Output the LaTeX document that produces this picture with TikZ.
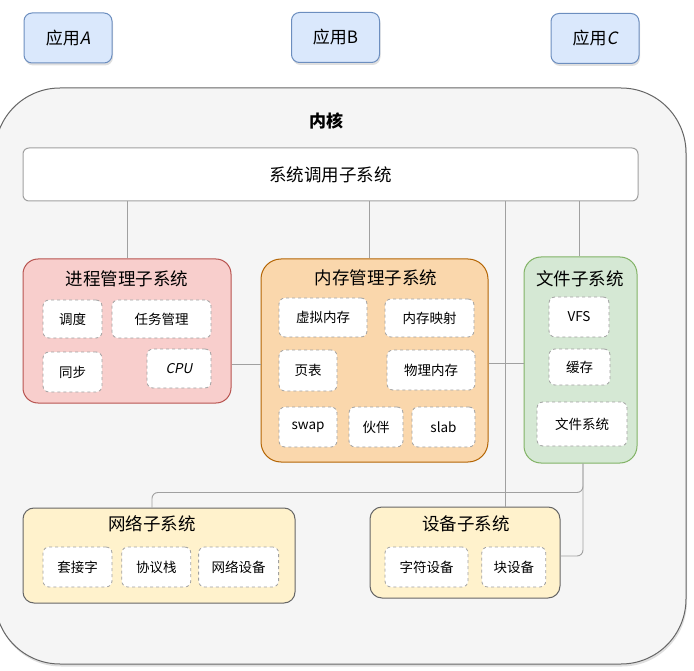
\documentclass[tikz,border=0pt]{standalone}
\usepackage{fontspec}
\setmainfont{Noto Sans CJK SC}[ItalicFont=Noto Sans CJK SC, ItalicFeatures={FakeSlant=0.2}]
\usepackage{tikz}
\usetikzlibrary{positioning,calc,shadows}

\definecolor{kernfill}{HTML}{F5F5F5}
\definecolor{kernline}{HTML}{666666}
\definecolor{appfill}{HTML}{DAE8FC}
\definecolor{appline}{HTML}{6C8EBF}
\definecolor{procfill}{HTML}{F8CECC}
\definecolor{procline}{HTML}{B85450}
\definecolor{memfill}{HTML}{FAD7AC}
\definecolor{memline}{HTML}{B46504}
\definecolor{filefill}{HTML}{D5E8D4}
\definecolor{fileline}{HTML}{82B366}
\definecolor{iofill}{HTML}{FFF2CC}
\definecolor{linkgray}{HTML}{A0A0A0}

\begin{document}
\begin{tikzpicture}[x=1pt, y=-1pt,
    app/.style={rectangle, draw=appline, fill=appfill, line width=1pt, rounded corners=8pt, minimum width=88pt, minimum height=50pt, inner sep=0pt, font=\fontsize{17}{20}\selectfont, drop shadow={opacity=0.25, shadow xshift=1pt, shadow yshift=-2.5pt}},
    subsys/.style={rectangle, line width=1pt, rounded corners=15pt, inner sep=0pt},
    item/.style={rectangle, draw=linkgray, dashed, fill=white, line width=0.8pt, rounded corners=6pt, minimum height=40pt, inner sep=0pt, font=\fontsize{13.5}{16}\selectfont},
    title/.style={font=\fontsize{17.5}{20}\selectfont},
    link/.style={draw=linkgray, line width=0.9pt}
]
\useasboundingbox (0,0) rectangle (694,671);

% kernel frame
\node[rectangle, draw=kernline, fill=kernfill, line width=1pt, rounded corners=65pt, minimum width=691pt, minimum height=576pt, drop shadow={opacity=0.25, shadow xshift=1pt, shadow yshift=-2.5pt}] (kernel) at (340.5,376) {};
\node[font=\bfseries\fontsize{17}{20}\selectfont] (kerntitle) at (326,121) {内核};

% applications
\node[app] (appA) at (68,38) {应用\textit{A}};
\node[app] (appB) at (335.5,37.5) {应用B};
\node[app] (appC) at (595,38.5) {应用\textit{C}};

% system call layer
\node[rectangle, draw=linkgray, fill=white, line width=1pt, rounded corners=6pt, minimum width=615pt, minimum height=53pt, font=\fontsize{17.5}{20}\selectfont] (sys) at (330.5,174.5) {系统调用子系统};

% subsystems
\node[subsys, draw=procline, fill=procfill, minimum width=208pt, minimum height=144pt] (proc) at (127,331) {};
\node[subsys, draw=memline, fill=memfill, rounded corners=20pt, minimum width=227pt, minimum height=203pt] (mem) at (374.5,360.5) {};
\node[subsys, draw=fileline, fill=filefill, rounded corners=17pt, minimum width=113pt, minimum height=206pt] (file) at (580.5,360) {};
\node[subsys, draw=kernline, fill=iofill, rounded corners=11pt, minimum width=272pt, minimum height=95pt] (net) at (159,555.5) {};
\node[subsys, draw=kernline, fill=iofill, rounded corners=12pt, minimum width=190pt, minimum height=91pt] (dev) at (465,552.5) {};

\node[title] (proctitle) at (127,279) {进程管理子系统};
\node[title] (memtitle) at (376,278) {内存管理子系统};
\node[title] (filetitle) at (580,279) {文件子系统};
\node[title] (nettitle) at (152,524) {网络子系统};
\node[title] (devtitle) at (466,524) {设备子系统};

% process management
\node[item, minimum width=59pt, minimum height=38pt] (sched) at (72.5,319) {调度};
\node[item, minimum width=99pt, minimum height=38pt] (task) at (161.5,319) {任务管理};
\node[item, minimum width=59pt] (sync) at (72.5,372) {同步};
\node[item, minimum width=64pt, minimum height=39pt] (cpu) at (179,368.5) {\textit{CPU}};

% memory management
\node[item, minimum width=88pt, minimum height=39pt] (vmem) at (323,317.5) {虚拟内存};
\node[item, minimum width=89pt, minimum height=38pt] (mmap) at (429.5,318) {内存映射};
\node[item, minimum width=58pt, minimum height=41pt] (ptable) at (308,370.5) {页表};
\node[item, minimum width=88pt] (pmem) at (431,370) {物理内存};
\node[item, minimum width=58pt] (swap) at (308,427) {swap};
\node[item, minimum width=54pt] (buddy) at (376,427) {伙伴};
\node[item, minimum width=63pt] (slab) at (443.5,427) {slab};

% file system
\node[item, minimum width=60pt] (vfs) at (579,317) {VFS};
\node[item, minimum width=61pt, minimum height=36pt] (cache) at (579.5,367) {缓存};
\node[item, minimum width=90pt, minimum height=44pt] (fs) at (582,424) {文件系统};

% network
\node[item, minimum width=69pt] (socket) at (77.5,567) {套接字};
\node[item, minimum width=69pt, right=9pt of socket] (stack) {协议栈};
\node[item, minimum width=80pt, right=7pt of stack] (netdev) {网络设备};

% devices
\node[item, minimum width=83pt] (chardev) at (426.5,567) {字符设备};
\node[item, minimum width=64pt, right=13pt of chardev] (blockdev) {块设备};

% connectors
\draw[link] (proc.north) -- (proc.north |- sys.south);
\draw[link] ([xshift=-5.5pt]mem.north) -- ([xshift=-5.5pt]mem.north |- sys.south);
\draw[link] ([xshift=-1.5pt]file.north) -- ([xshift=-1.5pt]file.north |- sys.south);
\draw[link] ([xshift=40pt]dev.north) -- ([xshift=40pt]dev.north |- sys.south);
\draw[link] ([yshift=-33pt]proc.east) -- ([yshift=-33pt]proc.east -| mem.west);
\draw[link] ([yshift=-2.5pt]mem.east) -- ([yshift=-2.5pt]mem.east -| file.west);
\draw[link, rounded corners=6pt] ([xshift=2.5pt]file.south) -- ++(0,29) -| ([xshift=-7pt]net.north);
\draw[link, rounded corners=6pt] ([xshift=2.5pt]file.south) |- ([yshift=-3.5pt]dev.east);
\end{tikzpicture}
\end{document}
